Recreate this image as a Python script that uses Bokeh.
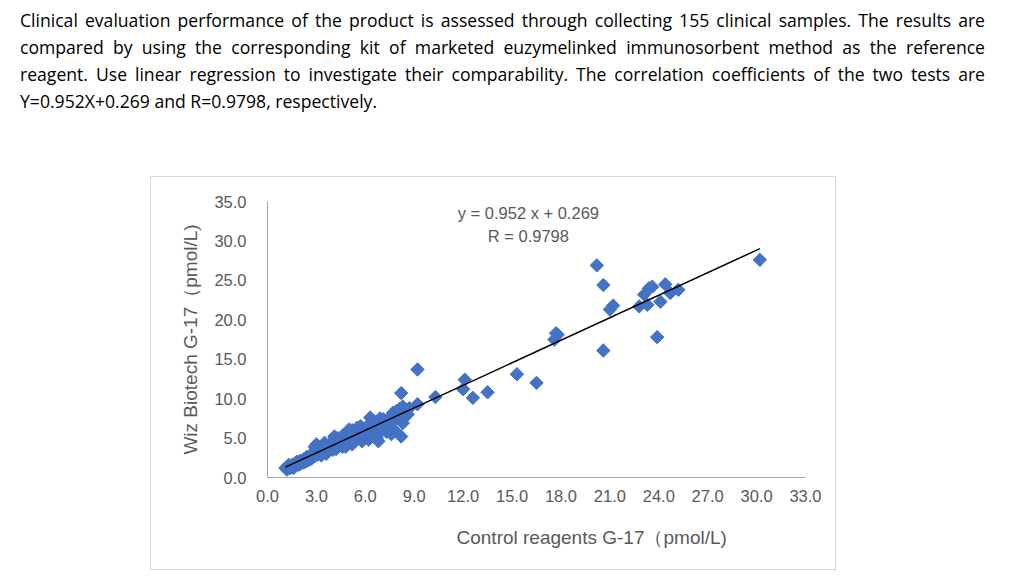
from bokeh.plotting import figure
from bokeh.models import Div, FixedTicker, PrintfTickFormatter, Label, Range1d, ColumnDataSource, Title
from bokeh.layouts import column
from bokeh.embed import file_html
from bokeh.resources import INLINE

# G-17 concentrations (pmol/L) for the clinical samples
control_g17 = [
    1.1, 1.2, 1.3, 1.4, 1.5, 1.6, 1.7, 1.8, 1.9, 2.0, 1.5, 1.9, 2.1, 2.2, 2.3, 2.4, 2.5, 2.6, 2.7,
    2.8, 2.9, 3.0, 3.1, 3.2, 3.3, 3.4, 3.5, 3.6, 3.0, 3.7, 3.8, 3.9, 4.0, 4.1, 2.9, 3.5,
    4.2, 4.3, 4.4, 4.5, 4.6, 4.7, 4.8, 4.9, 5.0, 4.2, 4.6, 4.1, 4.8,
    5.1, 5.2, 5.3, 5.4, 5.5, 5.6, 5.7, 5.8, 5.9, 6.0, 5.2, 5.5, 5.7, 5.0, 5.9,
    6.1, 6.2, 6.3, 6.4, 6.5, 6.6, 6.7, 6.8, 6.9, 7.0, 6.2, 6.5, 6.8, 6.3, 7.0, 6.6,
    7.1, 7.2, 7.3, 7.4, 7.5, 7.6, 7.7, 7.8, 7.9, 8.0, 7.3, 7.6, 7.4,
    8.1, 8.2, 8.3, 8.2, 8.3, 8.4, 8.5, 8.6, 9.2, 9.2, 8.7,
    10.3, 12.1, 12.0, 12.6, 13.5,
    15.3, 16.5, 17.7, 17.6, 17.8,
    20.2, 20.6, 21.2, 21.0, 22.8, 23.3, 23.4, 23.1, 23.6, 24.4, 24.1, 24.7, 25.2, 23.9, 20.6, 30.2,
    1.2, 1.3, 1.6, 1.8, 2.0, 2.2, 2.4, 2.6, 2.8, 3.1, 3.3, 3.6, 3.9, 4.0, 4.4, 4.7, 5.1, 5.3, 5.6,
    5.8, 6.1, 6.4, 6.9, 7.2, 7.8,
]
wiz_g17 = [
    1.2, 1.3, 1.4, 1.2, 1.6, 1.5, 1.8, 1.7, 1.9, 2.1, 1.3, 1.6, 1.9, 2.3, 2.0, 2.6, 2.2, 2.8, 2.4,
    3.1, 2.7, 3.4, 2.9, 3.7, 3.1, 4.0, 3.3, 3.6, 4.2, 3.4, 4.1, 3.7, 4.6, 3.9, 3.9, 4.4,
    4.3, 5.0, 4.0, 4.7, 5.3, 4.3, 4.9, 5.6, 4.4, 3.6, 3.9, 5.2, 3.9,
    5.2, 6.0, 4.7, 5.5, 6.3, 5.0, 5.8, 4.6, 6.1, 5.3, 4.2, 4.9, 6.5, 6.1, 5.0,
    6.4, 5.6, 6.9, 5.9, 7.2, 6.2, 5.0, 6.6, 7.5, 5.9, 4.8, 5.2, 4.6, 7.6, 6.8, 6.9,
    7.4, 6.2, 5.8, 7.0, 6.4, 7.8, 8.2, 6.0, 8.4, 7.9, 6.5, 5.5, 5.9,
    8.7, 10.7, 9.0, 5.2, 6.9, 7.7, 8.3, 8.0, 9.3, 13.7, 8.8,
    10.2, 12.4, 11.2, 10.1, 10.8,
    13.1, 12.0, 18.3, 17.5, 18.1,
    26.9, 24.4, 21.8, 21.3, 21.7, 21.9, 24.0, 23.2, 24.2, 24.5, 22.3, 23.4, 23.8, 17.8, 16.1, 27.6,
    1.0, 1.6, 1.2, 2.0, 1.7, 1.9, 2.1, 2.3, 2.6, 3.5, 2.8, 3.0, 4.3, 3.5, 4.6, 5.1, 4.8, 5.7, 5.4,
    5.5, 5.9, 6.6, 6.3, 7.1, 7.3,
]

# Linear regression result
slope = 0.952
intercept = 0.269
r_value = 0.9798

x_ticks = [0, 3, 6, 9, 12, 15, 18, 21, 24, 27, 30, 33]
y_ticks = [0, 5, 10, 15, 20, 25, 30, 35]

intro_lines = [
    "Clinical evaluation performance of the product is assessed through collecting 155 clinical samples. The results are",
    "compared by using the corresponding kit of marketed euzymelinked immunosorbent method as the reference",
    "reagent. Use linear regression to investigate their comparability. The correlation coefficients of the two tests are",
    "Y=0.952X+0.269 and R=0.9798, respectively.",
]

# Intro paragraph: first lines justified to the full width, last line left aligned
rows = []
for i, t in enumerate(intro_lines):
    if i == len(intro_lines) - 1:
        rows.append('<div style="text-align:left;height:27px;line-height:27px;'
                    f'white-space:nowrap;">{t}</div>')
    else:
        rows.append('<div style="text-align:justify;text-align-last:justify;'
                    f'height:27px;line-height:27px;">{t}</div>')
intro_html = (
    '<div style="font-family:\'Open Sans\';font-size:17.6px;color:#000;'
    'width:985px;padding:7px 0 0 20px;">' + "".join(rows) + "</div>"
)
intro = Div(text=intro_html, width=1024, height=176, margin=(0, 0, 0, 0))

src = ColumnDataSource(data=dict(x=control_g17, y=wiz_g17))

p = figure(
    width=686, height=394,
    margin=(0, 0, 0, 150),
    output_backend="svg", toolbar_location=None,
    x_range=Range1d(0, 33), y_range=Range1d(0, 35),
    min_border_left=116, min_border_right=32, min_border_top=24, min_border_bottom=94,
    background_fill_color="white", border_fill_color="white",
    outline_line_color=None,
    styles={"border": "1px solid #D9D9D9", "box-sizing": "border-box"},
)
p.xgrid.grid_line_color = None
p.ygrid.grid_line_color = None

axis_font = "Liberation Sans"
grey_text = "#595959"
for ax in (p.xaxis[0], p.yaxis[0]):
    ax.axis_line_color = "#A6A6A6"
    ax.axis_line_width = 1
    ax.major_tick_line_color = None
    ax.minor_tick_line_color = None
    ax.major_tick_out = 0
    ax.major_tick_in = 0
    ax.major_label_text_font = axis_font
    ax.major_label_text_font_size = "16.5px"
    ax.major_label_text_color = grey_text
    ax.axis_label_text_font = axis_font
    ax.axis_label_text_font_size = "19px"
    ax.axis_label_text_font_style = "normal"
    ax.axis_label_text_color = grey_text
    ax.formatter = PrintfTickFormatter(format="%.1f")

p.xaxis.ticker = FixedTicker(ticks=x_ticks)
p.yaxis.ticker = FixedTicker(ticks=y_ticks)
p.xaxis.major_label_standoff = 12
p.yaxis.major_label_standoff = 21
p.yaxis.axis_label = "Wiz Biotech G-17（pmol/L)"
p.yaxis.axis_label_standoff = 10

# Horizontal axis title, placed right of the plot centre
p.add_layout(Title(text="Control reagents  G-17（pmol/L)", align="left", offset=189,
                   text_font=axis_font, text_font_size="19px", text_font_style="normal",
                   text_color=grey_text, standoff=41), "below")

# Sample points
p.scatter("x", "y", source=src, marker="square", size=9.5, angle=0.785398,
          fill_color="#4472C4", line_color="#4472C4", line_width=1)

# Regression line over the measured range
x0, x1 = min(control_g17), max(control_g17)
p.line([x0, x1], [slope * x0 + intercept, slope * x1 + intercept],
       line_color="black", line_width=1.5)

p.add_layout(Label(x=16, y=33.5, text=f"y = {slope} x + {intercept}",
                   text_align="center", text_baseline="middle",
                   text_font=axis_font, text_font_size="16.5px", text_color=grey_text))
p.add_layout(Label(x=16, y=30.6, text=f"R = {r_value}",
                   text_align="center", text_baseline="middle",
                   text_font=axis_font, text_font_size="16.5px", text_color=grey_text))

layout = column(intro, p, spacing=0)
open("out.html", "w").write(file_html(layout, INLINE))
